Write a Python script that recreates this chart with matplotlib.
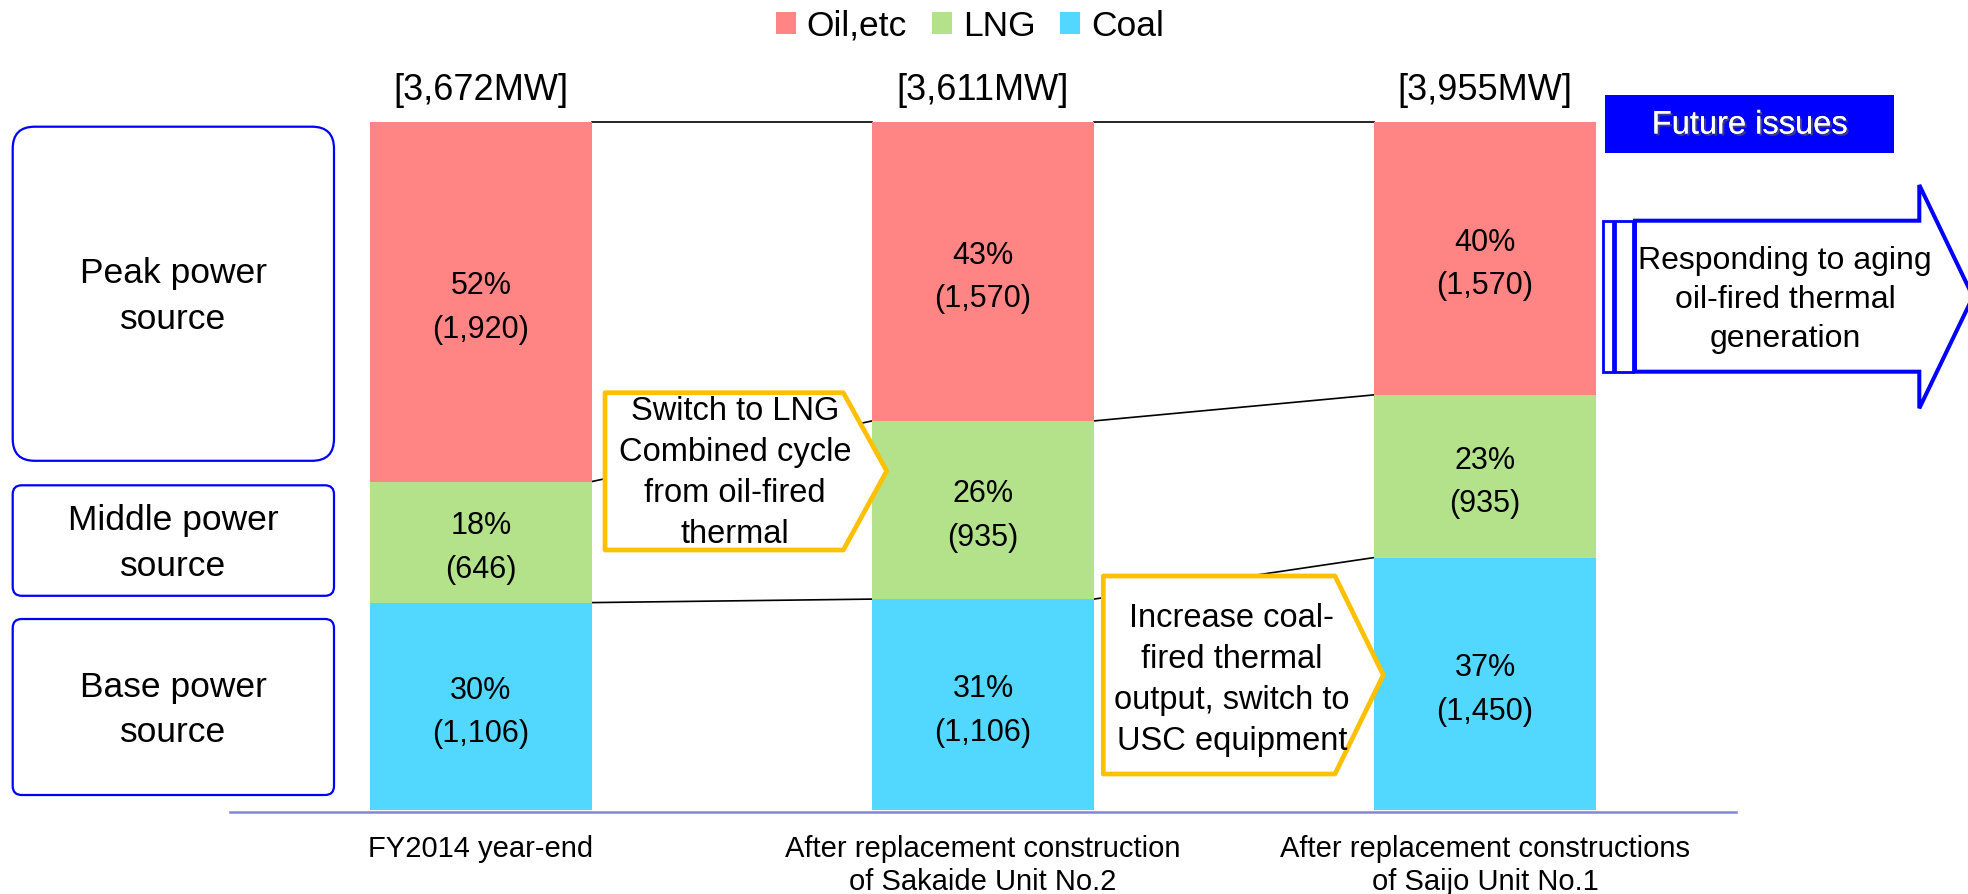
import numpy as np
import matplotlib.pyplot as plt
from matplotlib.patches import Polygon, FancyBboxPatch, Rectangle
import matplotlib.patheffects as pe

plt.rcParams['font.family'] = ['Liberation Sans', 'DejaVu Sans']

# capacity by fuel (MW)
categories = ['FY2014 year-end',
              'After replacement construction\nof Sakaide Unit No.2',
              'After replacement constructions\nof Saijo Unit No.1']
fuels = ['Oil,etc', 'LNG', 'Coal']
coal_mw = [1106, 1106, 1450]
lng_mw = [646, 935, 935]
oil_mw = [1920, 1570, 1570]
coal_pct = [30, 31, 37]
lng_pct = [18, 26, 23]
oil_pct = [52, 43, 40]
fuel_colors = ['#FF8585', '#B3E28A', '#52D8FF']

W, H = 1968, 894
fig = plt.figure(figsize=(W / 100, H / 100), dpi=100)

# --- stacked 100% bars ---
ax = fig.add_axes([230 / W, 1 - 811.6 / H, 1506 / W, (811.6 - 121.7) / H])
x = np.arange(len(categories))
bw = 0.442
totals = np.array(coal_mw) + np.array(lng_mw) + np.array(oil_mw)
coal = np.array(coal_mw) / totals * 100
lng = np.array(lng_mw) / totals * 100
oil = np.array(oil_mw) / totals * 100

b_coal = ax.bar(x, coal, bw, color=fuel_colors[2], zorder=2)
b_lng = ax.bar(x, lng, bw, bottom=coal, color=fuel_colors[1], zorder=2)
b_oil = ax.bar(x, oil, bw, bottom=coal + lng, color=fuel_colors[0], zorder=2)

ax.set_xlim(-0.5, 2.5)
ax.set_ylim(-0.25, 100)
for s in ['left', 'right', 'top']:
    ax.spines[s].set_visible(False)
ax.spines['bottom'].set_color('#8585D8')
ax.spines['bottom'].set_linewidth(1.8)
ax.set_yticks([])
ax.set_xticks(x, categories)
ax.tick_params(axis='x', length=0, pad=17, labelsize=21)

# series lines joining the segment boundaries
levels = [np.full(3, 100.0), coal + lng, coal]
for lv in levels:
    for i in range(len(x) - 1):
        ax.plot([x[i] + bw / 2, x[i + 1] - bw / 2], [lv[i], lv[i + 1]],
                color='black', lw=1.2, clip_on=False, zorder=1)

# segment labels
for i in range(len(x)):
    segs = [(coal[i] / 2, coal_pct[i], coal_mw[i]),
            (coal[i] + lng[i] / 2, lng_pct[i], lng_mw[i]),
            (coal[i] + lng[i] + oil[i] / 2, oil_pct[i], oil_mw[i])]
    for yc, p, mw in segs:
        ax.text(x[i], yc - 0.9, f'{p}%\n({mw:,})', ha='center', va='center',
                fontsize=22, linespacing=1.6, zorder=3)
    ax.text(x[i], 103.2, f'[{totals[i]:,}MW]', ha='center', va='baseline',
            fontsize=26, clip_on=False)

fig.legend([b_oil, b_lng, b_coal], fuels, loc='center',
           bbox_to_anchor=(970 / W, 1 - 26 / H), ncol=3, frameon=False,
           fontsize=25.5, handlelength=0.55, handleheight=0.55,
           handletextpad=0.32, columnspacing=0.7, borderaxespad=0,
           borderpad=0)

# --- overlay for boxes and callouts (pixel coords) ---
ov = fig.add_axes([0, 0, 1, 1], zorder=5)
ov.set_xlim(0, W)
ov.set_ylim(H, 0)
ov.axis('off')

side_boxes = [('Peak power\nsource', 126.7, 460.8, 22),
              ('Middle power\nsource', 485.3, 595.8, 9),
              ('Base power\nsource', 619, 795, 9)]
for label, y0, y1, r in side_boxes:
    ov.add_patch(FancyBboxPatch((12.7, y0), 334 - 12.7, y1 - y0,
                                boxstyle=f'round,pad=0,rounding_size={r}',
                                fc='white', ec='#0000FF', lw=1.6))
    ov.text(173, (y0 + y1) / 2 + 3, label, ha='center', va='center',
            fontsize=25.5, linespacing=1.5)

callouts = [
    ([(605, 392.7), (843.3, 392.7), (886.7, 471), (843.3, 550), (605, 550)],
     (735, 473), 'Switch to LNG\nCombined cycle\nfrom oil-fired\nthermal'),
    ([(1103.3, 576), (1335, 576), (1383.3, 675), (1335, 774), (1103.3, 774)],
     (1231.7, 680), 'Increase coal-\nfired thermal\noutput, switch to\nUSC equipment'),
]
for pts, (tx, ty), txt in callouts:
    ov.add_patch(Polygon(pts, closed=True, fc='white', ec='#FFC000', lw=3.4,
                         joinstyle='round'))
    ov.text(tx, ty, txt, ha='center', va='center', fontsize=23.5,
            linespacing=1.43)

# future issues header and arrow
ov.add_patch(Rectangle((1605, 95), 289, 58.3, fc='#0000FF', ec='none'))
ov.text(1749.5, 125, 'Future issues', ha='center', va='center', fontsize=23.5,
        color='white',
        path_effects=[pe.withSimplePatchShadow(offset=(1.5, -1.5),
                                               shadow_rgbFace='#555555',
                                               alpha=0.7), pe.Normal()])

arrow_pts = [(1635, 220.7), (1919.3, 220.7), (1919.3, 185), (1973, 296.7),
             (1919.3, 408.3), (1919.3, 371.7), (1635, 371.7)]
ov.add_patch(Polygon(arrow_pts, closed=True, fc='white', ec='#0000FF', lw=2.9,
                     clip_on=False))
ov.add_patch(Rectangle((1602.7, 220.7), 10.6, 151, fc='white', ec='#0000FF', lw=2))
ov.add_patch(Rectangle((1615, 220.7), 17.7, 151, fc='white', ec='#0000FF', lw=2))
ov.text(1785, 300, 'Responding to aging\noil-fired thermal\ngeneration',
        ha='center', va='center', fontsize=23, linespacing=1.4)

fig.savefig('out.png', dpi=100)
